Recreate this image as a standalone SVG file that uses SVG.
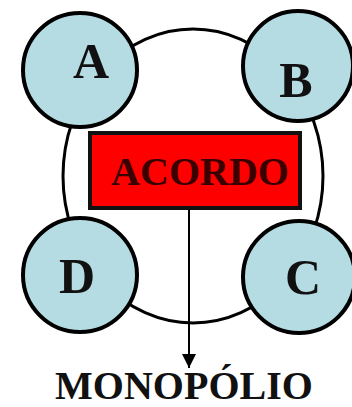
<svg xmlns="http://www.w3.org/2000/svg" width="352" height="407" viewBox="0 0 352 407">
<defs>
<style>
.node{fill:#b4dce2;stroke:#000;stroke-width:4}
.lbl{font-family:"Liberation Serif","Times New Roman",serif;font-weight:bold;fill:#111;text-anchor:middle}
.big{font-size:50px}
</style>
<marker id="arr" viewBox="0 0 10 10" refX="10" refY="5" markerWidth="7" markerHeight="7" orient="auto" markerUnits="strokeWidth">
<path d="M0,0 L10,5 L0,10 z" fill="#000"/>
</marker>
</defs>
<rect width="352" height="407" fill="#fff"/>
<g id="ring">
<ellipse cx="193" cy="176" rx="130" ry="147" fill="none" stroke="#000" stroke-width="3"/>
</g>
<g id="nodeA"><circle class="node" cx="80" cy="70" r="57"/><text class="lbl big" x="91" y="78">A</text></g>
<g id="nodeB"><circle class="node" cx="298" cy="66" r="55"/><text class="lbl big" x="296" y="97">B</text></g>
<g id="nodeD"><circle class="node" cx="80" cy="275" r="57"/><text class="lbl big" x="77" y="293">D</text></g>
<g id="nodeC"><circle class="node" cx="299" cy="277" r="56"/><text class="lbl big" x="303" y="294">C</text></g>
<g id="acordo">
<rect x="90" y="133" width="210" height="75" fill="#ff0000" stroke="#111" stroke-width="4"/>
<text class="lbl" x="200" y="185" font-size="40" style="fill:#3a0000">ACORDO</text>
</g>
<g id="connectors">
<line x1="189" y1="210" x2="189" y2="368" stroke="#000" stroke-width="2" marker-end="url(#arr)"/>
</g>
<g id="monopolio">
<text class="lbl" x="184" y="399" font-size="40">MONOPÓLIO</text>
</g>
</svg>
